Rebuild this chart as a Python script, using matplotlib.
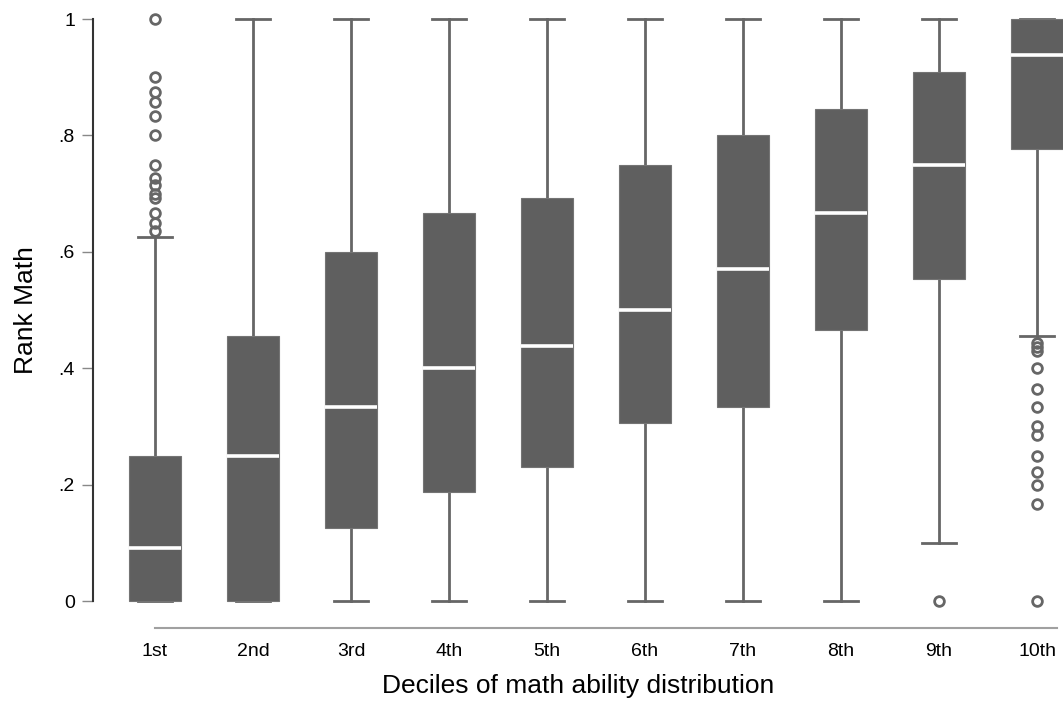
import numpy as np
import matplotlib
matplotlib.use("Agg")
import matplotlib.pyplot as plt

plt.rcParams['font.family'] = ['Liberation Sans', 'DejaVu Sans']

# deciles and box statistics
deciles = ["1st", "2nd", "3rd", "4th", "5th", "6th", "7th", "8th", "9th", "10th"]
q1 = [0.0, 0.0, 0.125, 0.187, 0.230, 0.306, 0.333, 0.466, 0.553, 0.776]
med = [0.091, 0.25, 0.333, 0.40, 0.438, 0.50, 0.571, 0.667, 0.75, 0.938]
q3 = [0.25, 0.455, 0.60, 0.667, 0.692, 0.75, 0.80, 0.846, 0.909, 1.0]
whislo = [0.0, 0.0, 0.0, 0.0, 0.0, 0.0, 0.0, 0.0, 0.1, 0.455]
whishi = [0.625, 1.0, 1.0, 1.0, 1.0, 1.0, 1.0, 1.0, 1.0, 1.0]
fliers = [
    [1.0, 0.9, 0.875, 0.857, 0.833, 0.8, 0.75, 0.727, 0.714, 0.70, 0.692, 0.667, 0.65, 0.636],
    [], [], [], [], [], [], [],
    [0.0],
    [0.444, 0.437, 0.429, 0.40, 0.364, 0.333, 0.30, 0.286, 0.25, 0.222, 0.20, 0.167, 0.0],
]

stats = []
for i in range(len(deciles)):
    stats.append(dict(label=deciles[i], q1=q1[i], med=med[i], q3=q3[i],
                      whislo=whislo[i], whishi=whishi[i], fliers=fliers[i]))

fig = plt.figure(figsize=(10.63, 7.02), dpi=100)
ax = fig.add_axes([93 / 1063, (702 - 628) / 702, 970 / 1063, (628 - 19) / 702])

box_col = '#5f5f5f'
line_col = '#666666'
parts = ax.bxp(stats, positions=np.arange(1, 11), widths=0.53, patch_artist=True,
               boxprops=dict(facecolor=box_col, edgecolor='#747474', linewidth=0.8),
               medianprops=dict(color='white', linewidth=2.6),
               whiskerprops=dict(color=line_col, linewidth=2),
               capprops=dict(color=line_col, linewidth=2),
               capwidths=0.34,
               flierprops=dict(marker='o', markerfacecolor='none', markeredgecolor=line_col,
                               markersize=7, markeredgewidth=2))
for b in parts['boxes']:
    b.set_zorder(5)
for m in parts['medians']:
    m.set_zorder(6)
for art in ax.get_children():
    try:
        art.set_clip_on(False)
    except Exception:
        pass

ax.set_xlim(1 - 62 / 98, 1 + 908 / 98)
ax.set_ylim(-27 / 582, 1.0)

ax.spines['top'].set_visible(False)
ax.spines['right'].set_visible(False)
ax.spines['left'].set_bounds(0, 1)
ax.spines['left'].set_color('#333333')
ax.spines['left'].set_linewidth(1.5)
ax.spines['bottom'].set_bounds(1, 10.2)
ax.spines['bottom'].set_color('#a0a0a0')
ax.spines['bottom'].set_linewidth(1.5)

ax.set_yticks([0, 0.2, 0.4, 0.6, 0.8, 1.0])
ax.set_yticklabels(["0", ".2", ".4", ".6", ".8", "1"])
ax.tick_params(axis='y', length=8, width=1, color='#888888', labelsize=14, pad=5)
ax.tick_params(axis='x', length=0, labelsize=14, pad=11)
ax.set_xticks(np.arange(1, 11))
ax.set_xticklabels(deciles)

ax.set_ylabel("Rank Math", fontsize=19)
ax.yaxis.set_label_coords(-0.057, 0.522)
ax.set_xlabel("Deciles of math ability distribution", fontsize=19, labelpad=10)

fig.savefig("out.png", dpi=100)
